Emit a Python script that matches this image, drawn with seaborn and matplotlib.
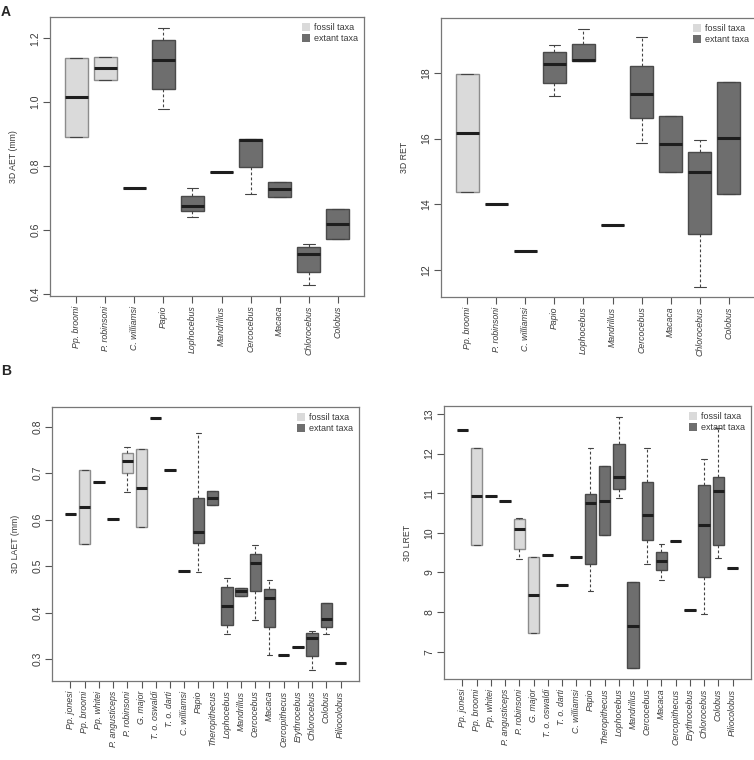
import numpy as np
import pandas as pd
import matplotlib
matplotlib.use("Agg")
import matplotlib.pyplot as plt
import seaborn as sns
from matplotlib.patches import Patch

# --- panel A: 10 taxa (3 fossil) ---
taxa_a = ["Pp. broomi", "P. robinsoni", "C. williamsi", "Papio", "Lophocebus",
          "Mandrillus", "Cercocebus", "Macaca", "Chlorocebus", "Colobus"]
fossil_a = ["Pp. broomi", "P. robinsoni", "C. williamsi"]

aet_lo  = [0.892, 1.069, 0.732, 0.978, 0.641, 0.781, 0.713, 0.702, 0.426, 0.571]
aet_q1  = [0.892, 1.069, 0.732, 1.042, 0.658, 0.781, 0.796, 0.702, 0.467, 0.571]
aet_med = [1.015, 1.106, 0.732, 1.132, 0.676, 0.781, 0.882, 0.728, 0.524, 0.618]
aet_q3  = [1.137, 1.143, 0.732, 1.195, 0.705, 0.781, 0.884, 0.751, 0.547, 0.664]
aet_hi  = [1.137, 1.143, 0.732, 1.233, 0.731, 0.781, 0.884, 0.751, 0.557, 0.664]

ret_lo  = [14.38, 14.00, 12.58, 17.30, 18.34, 13.38, 15.88, 14.98, 11.50, 14.33]
ret_q1  = [14.38, 14.00, 12.58, 17.68, 18.34, 13.38, 16.61, 14.98, 13.10, 14.33]
ret_med = [16.18, 14.00, 12.58, 18.25, 18.40, 13.38, 17.34, 15.84, 14.97, 16.03]
ret_q3  = [17.95, 14.00, 12.58, 18.64, 18.86, 13.38, 18.20, 16.68, 15.58, 17.73]
ret_hi  = [17.95, 14.00, 12.58, 18.84, 19.34, 13.38, 19.08, 16.68, 15.96, 17.73]

# --- panel B: 20 taxa (9 fossil) ---
taxa_b = ["Pp. jonesi", "Pp. broomi", "Pp. whitei", "P. angusticeps", "P. robinsoni",
          "G. major", "T. o. oswaldi", "T. o. darti", "C. williamsi", "Papio",
          "Theropithecus", "Lophocebus", "Mandrillus", "Cercocebus", "Macaca",
          "Cercopithecus", "Erythrocebus", "Chlorocebus", "Colobus", "Piliocolobus"]
fossil_b = ["Pp. jonesi", "Pp. broomi", "Pp. whitei", "P. angusticeps", "P. robinsoni",
            "G. major", "T. o. oswaldi", "T. o. darti", "C. williamsi"]

laet_lo  = [0.611, 0.547, 0.680, 0.601, 0.659, 0.584, 0.819, 0.706, 0.489, 0.487,
            0.632, 0.355, 0.436, 0.384, 0.309, 0.309, 0.326, 0.276, 0.354, 0.292]
laet_q1  = [0.611, 0.547, 0.680, 0.601, 0.700, 0.584, 0.819, 0.706, 0.489, 0.549,
            0.632, 0.374, 0.436, 0.446, 0.370, 0.309, 0.326, 0.306, 0.370, 0.292]
laet_med = [0.611, 0.626, 0.680, 0.601, 0.726, 0.668, 0.819, 0.706, 0.489, 0.574,
            0.647, 0.415, 0.446, 0.506, 0.432, 0.309, 0.326, 0.345, 0.387, 0.292]
laet_q3  = [0.611, 0.706, 0.680, 0.601, 0.743, 0.751, 0.819, 0.706, 0.489, 0.647,
            0.661, 0.455, 0.453, 0.526, 0.451, 0.309, 0.326, 0.356, 0.421, 0.292]
laet_hi  = [0.611, 0.706, 0.680, 0.601, 0.757, 0.751, 0.819, 0.706, 0.489, 0.786,
            0.661, 0.474, 0.453, 0.545, 0.470, 0.309, 0.326, 0.361, 0.421, 0.292]

lret_lo  = [12.59, 9.69, 10.93, 10.81, 9.33, 7.46, 9.45, 8.68, 9.38, 8.54,
            9.94, 10.89, 6.58, 9.22, 8.82, 9.79, 8.05, 7.95, 9.36, 9.12]
lret_q1  = [12.59, 9.69, 10.93, 10.81, 9.60, 7.46, 9.45, 8.68, 9.38, 9.22,
            9.94, 11.10, 6.58, 9.82, 9.05, 9.79, 8.05, 8.88, 9.69, 9.12]
lret_med = [12.59, 10.92, 10.93, 10.81, 10.10, 8.42, 9.45, 8.68, 9.38, 10.74,
            10.81, 11.41, 7.65, 10.45, 9.29, 9.79, 8.05, 10.19, 11.06, 9.12]
lret_q3  = [12.59, 12.13, 10.93, 10.81, 10.34, 9.39, 9.45, 8.68, 9.38, 10.98,
            11.68, 12.23, 8.75, 11.29, 9.51, 9.79, 8.05, 11.20, 11.42, 9.12]
lret_hi  = [12.59, 12.13, 10.93, 10.81, 10.37, 9.39, 9.45, 8.68, 9.38, 12.15,
            11.68, 12.93, 8.75, 12.15, 9.71, 9.79, 8.05, 11.86, 12.65, 9.12]

FOSSIL_FILL = "#dadada"
EXTANT_FILL = "#6e6e6e"
TXT = "#3a3a3a"

sns.set_theme(style="ticks")
plt.rcParams["font.family"] = ["Liberation Sans", "DejaVu Sans"]


def five_point_frame(taxa, fossils, lo, q1, med, q3, hi):
    # 5 values per taxon -> quartiles/whiskers land exactly on them
    rows = []
    for i, t in enumerate(taxa):
        grp = "fossil taxa" if t in fossils else "extant taxa"
        for v in (lo[i], q1[i], med[i], q3[i], hi[i]):
            rows.append({"taxon": t, "group": grp, "value": v})
    return pd.DataFrame(rows)


def draw_panel(fig, rect, df, taxa, ylabel, ylim, yticks):
    ax = fig.add_axes(rect)
    for grp, fill, edge in [("fossil taxa", FOSSIL_FILL, "#8c8c8c"),
                            ("extant taxa", EXTANT_FILL, "#4a4a4a")]:
        sns.boxplot(data=df[df["group"] == grp], x="taxon", y="value", order=taxa,
                    color=fill, linecolor=edge, linewidth=1.0, width=0.8,
                    whis=(0, 100), saturation=1, ax=ax,
                    medianprops=dict(color="#1e1e1e", linewidth=2.2),
                    whiskerprops=dict(color="#444444", linewidth=0.8, linestyle=(0, (2.5, 2))),
                    capprops=dict(color="#444444", linewidth=0.8))
    n = len(taxa)
    pad = 0.04 * n
    ax.set_xlim(-0.5 - pad, n - 0.5 + pad)
    ax.set_ylim(*ylim)
    ax.set_yticks(yticks)
    ax.set_xticks(range(n))
    ax.set_xticklabels(taxa, rotation=90, fontstyle="italic", fontsize=6.3, color=TXT)
    plt.setp(ax.get_yticklabels(), rotation=90, va="center", fontsize=7.5, color=TXT)
    ax.tick_params(direction="out", length=5, width=0.8, color="#555555", pad=2)
    ax.set_xlabel("")
    ax.set_ylabel(ylabel, fontsize=6.3, color=TXT, labelpad=9)
    for s in ax.spines.values():
        s.set_visible(True)
        s.set_color("#777777")
        s.set_linewidth(0.9)
    handles = [Patch(facecolor=FOSSIL_FILL, edgecolor="none", label="fossil taxa"),
               Patch(facecolor=EXTANT_FILL, edgecolor="none", label="extant taxa")]
    leg = ax.legend(handles=handles, loc="upper right", frameon=False, fontsize=6.5,
                    handlelength=0.9, handleheight=1.0, handletextpad=0.4,
                    labelspacing=0.15, borderaxespad=0.3)
    for t in leg.get_texts():
        t.set_color(TXT)
    return ax


W, H = 754, 760
fig = plt.figure(figsize=(W / 100, H / 100), dpi=100)


def rect(left, right, top, bottom):
    return [left / W, 1 - bottom / H, (right - left) / W, (bottom - top) / H]


df_aet = five_point_frame(taxa_a, fossil_a, aet_lo, aet_q1, aet_med, aet_q3, aet_hi)
df_ret = five_point_frame(taxa_a, fossil_a, ret_lo, ret_q1, ret_med, ret_q3, ret_hi)
df_laet = five_point_frame(taxa_b, fossil_b, laet_lo, laet_q1, laet_med, laet_q3, laet_hi)
df_lret = five_point_frame(taxa_b, fossil_b, lret_lo, lret_q1, lret_med, lret_q3, lret_hi)

draw_panel(fig, rect(50, 364, 17, 296), df_aet, taxa_a, "3D AET (mm)",
           (0.393, 1.267), [0.4, 0.6, 0.8, 1.0, 1.2])
draw_panel(fig, rect(441, 755, 18, 297), df_ret, taxa_a, "3D RET",
           (11.19, 19.66), [12, 14, 16, 18])
draw_panel(fig, rect(52, 359, 407, 681), df_laet, taxa_b, "3D LAET (mm)",
           (0.253, 0.842), [0.3, 0.4, 0.5, 0.6, 0.7, 0.8])
draw_panel(fig, rect(444, 751, 406, 679), df_lret, taxa_b, "3D LRET",
           (6.31, 13.2), [7, 8, 9, 10, 11, 12, 13])

fig.text(1 / W, 1 - 12 / H, "A", fontsize=10, fontweight="bold", ha="left", va="center")
fig.text(1 / W, 1 - 371 / H, "B", fontsize=10, fontweight="bold", ha="left", va="center")

fig.savefig("out.png", dpi=100)
